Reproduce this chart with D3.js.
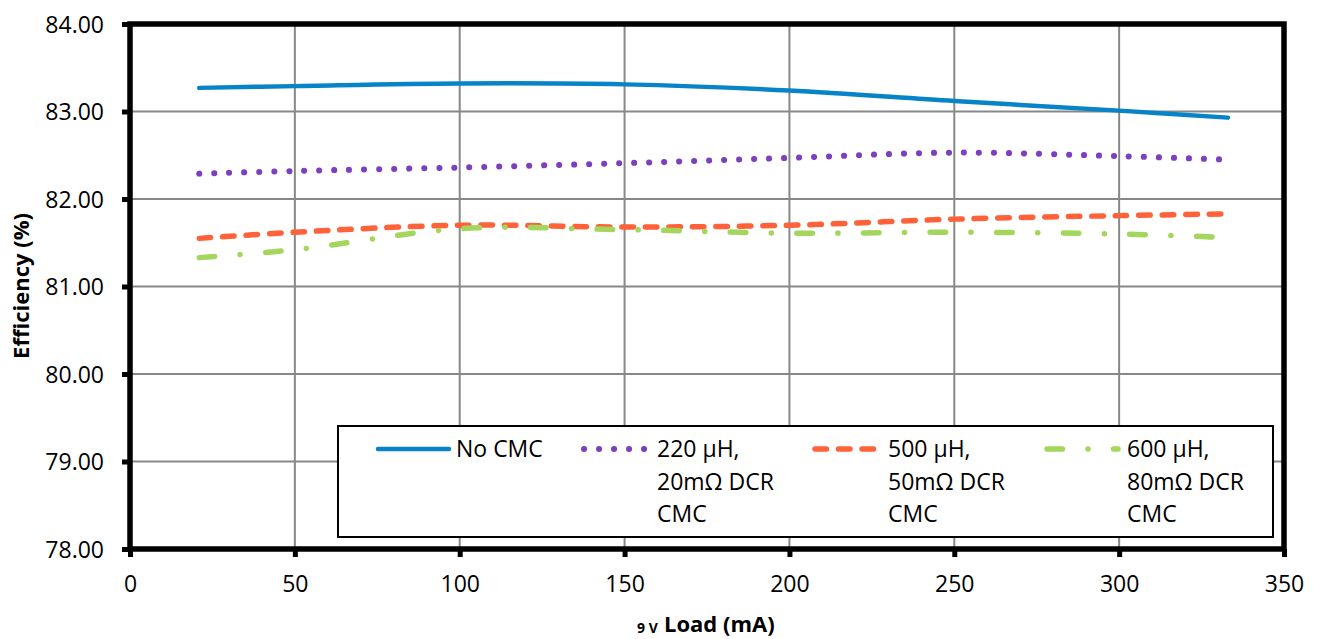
<!DOCTYPE html>
<html>
<head>
<meta charset="utf-8">
<script src="https://cdn.jsdelivr.net/npm/d3@7"></script>
<style>
  html, body { margin: 0; padding: 0; background: #fff; }
  svg { display: block; font-family: "Open Sans", "Noto Sans", sans-serif; }
</style>
</head>
<body>
<svg id="chart" width="1321" height="639"></svg>
<script>
// Efficiency vs. 9 V load for different common-mode chokes
const loads = [21, 50, 100, 150, 200, 250, 300, 333];
const noCMC  = [83.27, 83.29, 83.32, 83.31, 83.24, 83.12, 83.01, 82.93];
const cmc220 = [82.29, 82.32, 82.36, 82.41, 82.47, 82.53, 82.49, 82.45];
const cmc500 = [81.55, 81.62, 81.70, 81.68, 81.70, 81.77, 81.81, 81.83];
const cmc600 = [81.33, 81.42, 81.66, 81.65, 81.61, 81.62, 81.60, 81.56];

const seriesNames = [
  ["No CMC"],
  ["220 µH,", "20mΩ DCR", "CMC"],
  ["500 µH,", "50mΩ DCR", "CMC"],
  ["600 µH,", "80mΩ DCR", "CMC"]
];
const xTicks = [0, 50, 100, 150, 200, 250, 300, 350];
const yTicks = [78, 79, 80, 81, 82, 83, 84];

// Line styles per series
const styles = [
  { color: "#0784c8", width: 4.5, dash: null },
  { color: "#7b3fc0", width: 6,   dash: "0.1 14.9" },
  { color: "#ff6139", width: 5.5, dash: "11.5 12" },
  { color: "#a4d65e", width: 5.5, dash: "15.5 25.5 0.1 25.5" }
];
const seriesValues = [noCMC, cmc220, cmc500, cmc600];

const svg = d3.select("#chart");
const plotL = 130, plotR = 1284, plotT = 24, plotB = 549;

const x = d3.scaleLinear().domain([0, 350]).range([plotL, plotR]);
const y = d3.scaleLinear().domain([78, 84]).range([plotB, plotT]);

// Gridlines
const grid = svg.append("g").attr("stroke", "#888").attr("stroke-width", 2);
grid.selectAll("line.v").data(xTicks.slice(1, -1)).join("line")
  .attr("class", "v")
  .attr("x1", d => x(d)).attr("x2", d => x(d))
  .attr("y1", plotT).attr("y2", plotB);
grid.selectAll("line.h").data(yTicks.slice(1, -1)).join("line")
  .attr("class", "h")
  .attr("x1", plotL).attr("x2", plotR)
  .attr("y1", d => y(d)).attr("y2", d => y(d));

// Axes
const yAxis = d3.axisLeft(y).tickValues(yTicks).tickFormat(d3.format(".2f"))
  .tickSizeInner(8).tickSizeOuter(0).tickPadding(18);
const gy = svg.append("g").attr("transform", `translate(${plotL},0)`).call(yAxis);
gy.select(".domain").remove();
gy.selectAll(".tick line").attr("stroke", "#000").attr("stroke-width", 5);
gy.selectAll(".tick text").attr("font-size", 23).attr("fill", "#000")
  .attr("font-family", "'Open Sans', 'Noto Sans', sans-serif")
  .attr("dy", null).attr("y", 8);

const xAxis = d3.axisBottom(x).tickValues(xTicks).tickFormat(d3.format("d"))
  .tickSizeInner(8).tickSizeOuter(0).tickPadding(18);
const gx = svg.append("g").attr("transform", `translate(0,${plotB})`).call(xAxis);
gx.select(".domain").remove();
gx.selectAll(".tick line").attr("stroke", "#000").attr("stroke-width", 5);
gx.selectAll(".tick text").attr("font-size", 23).attr("fill", "#000")
  .attr("font-family", "'Open Sans', 'Noto Sans', sans-serif")
  .attr("dy", null).attr("y", 43);

// Plot frame
svg.append("rect")
  .attr("x", plotL).attr("y", plotT)
  .attr("width", plotR - plotL).attr("height", plotB - plotT)
  .attr("fill", "none").attr("stroke", "#000").attr("stroke-width", 5.5);

// Series lines
const line = d3.line()
  .x((d, i) => x(loads[i]))
  .y(d => y(d))
  .curve(d3.curveCatmullRom.alpha(0.5));

svg.append("g").selectAll("path").data(seriesValues).join("path")
  .attr("d", d => line(d))
  .attr("fill", "none")
  .attr("stroke", (d, i) => styles[i].color)
  .attr("stroke-width", (d, i) => styles[i].width)
  .attr("stroke-dasharray", (d, i) => styles[i].dash)
  .attr("stroke-linecap", "round")
  .attr("stroke-linejoin", "round");

// Legend
const lg = svg.append("g");
lg.append("rect")
  .attr("x", 338).attr("y", 426).attr("width", 935).attr("height", 111)
  .attr("fill", "#fff").attr("stroke", "#000").attr("stroke-width", 2);

const legendX = [378, 584, 815, 1047];
const sampleLen = [71, 64, 64, 71];
const items = lg.selectAll("g.item").data(seriesNames).join("g")
  .attr("class", "item")
  .attr("transform", (d, i) => `translate(${legendX[i]},449)`);
items.append("line")
  .attr("x1", 0).attr("x2", (d, i) => sampleLen[i])
  .attr("y1", 0).attr("y2", 0)
  .attr("stroke", (d, i) => styles[i].color)
  .attr("stroke-width", (d, i) => styles[i].width)
  .attr("stroke-dasharray", (d, i) => styles[i].dash)
  .attr("stroke-linecap", "round");
items.each(function (lines, i) {
  const tx = sampleLen[i] + (i === 0 ? 7 : 9);
  const t = d3.select(this).append("text")
    .attr("x", tx).attr("y", 8)
    .attr("font-size", 23).attr("fill", "#000");
  t.selectAll("tspan").data(lines).join("tspan")
    .attr("x", tx)
    .attr("dy", (d, k) => k === 0 ? 0 : 32.5)
    .text(d => d);
});

// Axis titles
svg.append("text")
  .attr("transform", "translate(29,286) rotate(-90)")
  .attr("text-anchor", "middle")
  .attr("font-size", 22).attr("font-weight", "bold")
  .text("Efficiency (%)");

svg.append("text")
  .attr("x", 637).attr("y", 633)
  .attr("font-size", 14).attr("font-weight", "bold")
  .text("9 V");
svg.append("text")
  .attr("x", 664).attr("y", 632)
  .attr("font-size", 22).attr("font-weight", "bold")
  .text("Load (mA)");
</script>
</body>
</html>
